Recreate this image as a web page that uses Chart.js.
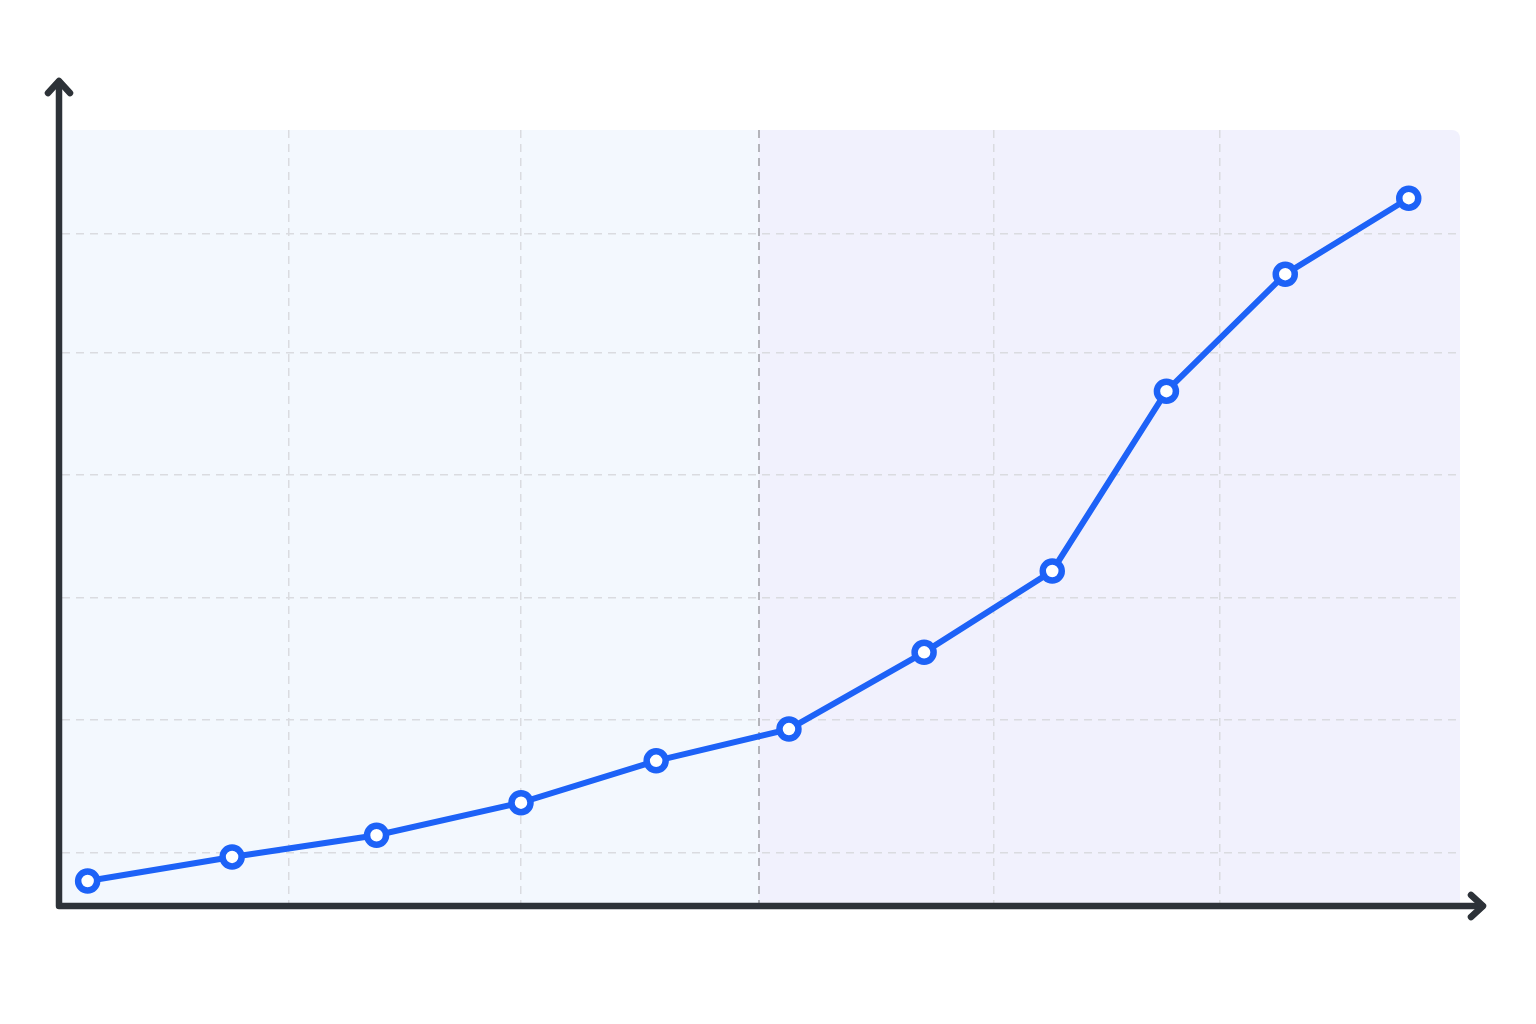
<!DOCTYPE html>
<html>
<head>
<meta charset="utf-8">
<script src="https://cdn.jsdelivr.net/npm/chart.js@4"></script>
<style>
  html, body { margin: 0; padding: 0; background: #ffffff; }
  #wrap { width: 1536px; height: 1024px; position: relative; }
</style>
</head>
<body>
<div id="wrap"><canvas id="grafico"></canvas></div>
<script>
// dados
const xValues = [0.11, 0.73, 1.35, 1.97, 2.55, 3.12, 3.70, 4.25, 4.74, 5.25, 5.78];
const yValues = [3.1, 6.2, 9.0, 13.2, 18.6, 22.7, 32.6, 43.1, 66.3, 81.4, 91.2];
const xGridTicks = [0.975, 1.97, 2.99, 4.0, 4.97];
const yGridTicks = [6.8, 23.9, 39.6, 55.5, 71.2, 86.6];
const splitValue = 2.99; // linha tracejada mais escura que divide os dois fundos

const AXIS = '#2d3238';

// fundo em duas cores + eixos com setas
const fundoEixos = {
    id: 'fundoEixos',
    beforeDraw(chart) {
        const { ctx, chartArea: a, scales: { x } } = chart;
        const sx = x.getPixelForValue(splitValue);
        ctx.save();
        ctx.fillStyle = '#f3f8fe';
        ctx.fillRect(a.left, a.top, sx - a.left, a.bottom - a.top);
        ctx.fillStyle = '#f1f1fd';
        ctx.beginPath();
        ctx.roundRect(sx, a.top, a.right - sx, a.bottom - a.top, [0, 8, 0, 0]);
        ctx.fill();
        ctx.restore();
    },
    afterDraw(chart) {
        const { ctx, chartArea: a } = chart;
        const ax = a.left - 3, ay = a.bottom + 1;
        ctx.save();
        ctx.strokeStyle = AXIS;
        ctx.lineWidth = 6.5;
        ctx.lineCap = 'round';
        ctx.lineJoin = 'round';
        ctx.beginPath();
        ctx.moveTo(ax, ay);
        ctx.lineTo(ax, a.top - 48);
        ctx.moveTo(ax, ay);
        ctx.lineTo(a.right + 22, ay);
        ctx.stroke();
        // setas
        ctx.beginPath();
        ctx.moveTo(ax - 11, a.top - 37);
        ctx.lineTo(ax, a.top - 49);
        ctx.lineTo(ax + 11, a.top - 37);
        ctx.moveTo(a.right + 11, ay - 11);
        ctx.lineTo(a.right + 23, ay);
        ctx.lineTo(a.right + 11, ay + 11);
        ctx.stroke();
        ctx.restore();
    }
};

new Chart(document.getElementById('grafico'), {
    type: 'line',
    data: {
        datasets: [{
            data: xValues.map((v, i) => ({ x: v, y: yValues[i] })),
            borderColor: '#1d62f7',
            borderWidth: 6,
            tension: 0,
            pointBackgroundColor: '#ffffff',
            pointBorderColor: '#1d62f7',
            pointBorderWidth: 6.5,
            pointRadius: 9.5,
            fill: false
        }]
    },
    options: {
        responsive: true,
        maintainAspectRatio: false,
        animation: false,
        layout: { padding: { left: 62, right: 76, top: 130, bottom: 119 } },
        plugins: { legend: { display: false }, tooltip: { enabled: false } },
        scales: {
            x: {
                type: 'linear',
                min: 0,
                max: 6,
                afterBuildTicks: (s) => { s.ticks = xGridTicks.map(v => ({ value: v })); },
                ticks: { display: false },
                grid: {
                    drawTicks: false,
                    lineWidth: (c) => c.tick && c.tick.value === splitValue ? 2 : 1.5,
                    color: (c) => c.tick && c.tick.value === splitValue ? '#b3b4ba' : '#dadbe0'
                },
                border: { display: false, dash: [8, 6] }
            },
            y: {
                min: 0,
                max: 100,
                afterBuildTicks: (s) => { s.ticks = yGridTicks.map(v => ({ value: v })); },
                ticks: { display: false },
                grid: { drawTicks: false, lineWidth: 1.5, color: '#dadbe0' },
                border: { display: false, dash: [8, 6] }
            }
        }
    },
    plugins: [fundoEixos]
});
</script>
</body>
</html>
